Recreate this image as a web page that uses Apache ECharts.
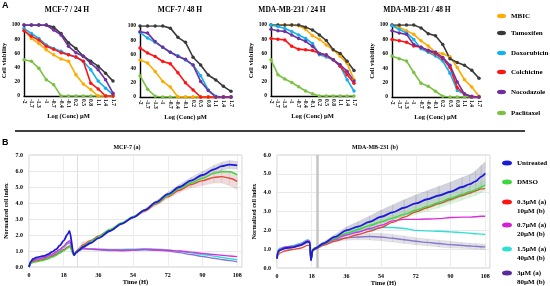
<!DOCTYPE html>
<html><head><meta charset="utf-8">
<script src="https://cdn.jsdelivr.net/npm/echarts@6/dist/echarts.min.js"></script>
<style>html,body{margin:0;padding:0;background:#fff}#c{width:550px;height:286px}</style>
</head><body><div id="c"></div>
<script>
// ---------- DATA : panel A (cell viability, %) ----------
const concLabels = ['-2','-1.7','-1.3','-1','-0.7','-0.4','-0.1','0.2','0.5','0.8','1.1','1.4','1.7'];
const drugNames = ['MBIC','Tamoxifen','Doxorubicin','Colchicine','Nocodazole','Paclitaxel'];
const panelTitles = ['MCF-7 / 24 H','MCF-7 / 48 H','MDA-MB-231 / 24 H','MDA-MB-231 / 48 H'];

const mcf24_mbic = [93,81,74,65,58,52,49,30,17,9,0,0,0];
const mcf24_tam  = [100,100,100,100,97,88,75,67,56,49,42,32,21];
const mcf24_dox  = [95,88,81,72,67,63,58,55,49,37,21,11,2];
const mcf24_col  = [92,84,79,70,66,61,58,55,49,18,10,0,0];
const mcf24_noc  = [100,100,100,100,93,86,70,61,56,46,37,23,4];
const mcf24_pac  = [51,49,39,23,16,0,0,0,0,0,0,0,0];

const mcf48_mbic = [52,48,36,22,14,0,0,0,0,0,0,0,0];
const mcf48_tam  = [100,100,100,100,97,84,77,56,45,31,24,15,8];
const mcf48_dox  = [91,83,77,70,63,58,52,45,30,10,1,0,0];
const mcf48_col  = [69,62,57,50,47,34,20,10,0,0,0,0,0];
const mcf48_noc  = [92,90,78,70,63,57,53,45,22,9,0,0,0];
const mcf48_pac  = [30,11,1,0,0,0,0,0,0,0,0,0,0];

const mda24_mbic = [100,100,100,100,99,94,85,80,72,65,56,46,23];
const mda24_tam  = [100,100,100,100,100,97,93,86,78,65,60,49,36];
const mda24_dox  = [100,98,95,91,86,81,74,58,55,51,42,23,7];
const mda24_col  = [81,80,79,70,66,65,64,60,57,51,42,30,18];
const mda24_noc  = [94,92,91,86,81,77,70,60,58,51,44,35,21];
const mda24_pac  = [51,30,24,19,13,7,3,0,0,0,0,0,0];

const mda48_mbic = [100,97,92,87,78,71,62,60,56,41,24,14,1];
const mda48_tam  = [100,100,100,100,96,88,85,73,53,48,44,37,26];
const mda48_dox  = [99,94,89,80,67,62,57,50,33,9,4,0,0];
const mda48_col  = [80,78,76,71,69,64,60,53,41,13,4,0,0];
const mda48_noc  = [92,89,87,73,69,65,62,55,44,21,4,1,0];
const mda48_pac  = [57,53,50,34,19,15,8,1,0,0,0,0,0];

// ---------- DATA : panel B (normalized cell index) ----------
const rtcaNames = ['Untreated','DMSO','0.3µM (a)\n10µM (b)','0.7µM (a)\n20µM (b)','1.5µM (a)\n40µM (b)','3µM (a)\n80µM (b)'];
const timeA = [0,1,2,4,6,8,10,12,14,16,18,20,21,23.3,24.5,26,28,32,36,42,48,54,60,66,72,78,84,90,96,100,104,108];
const mcfUntreated = [0,0.35,0.5,0.6,0.65,0.7,0.8,0.95,1.1,1.35,1.65,2.05,2.25,0.73,0.9,1.05,1.25,1.5,1.8,2.25,2.7,3.1,3.55,4.05,4.55,5.0,5.4,5.75,6.1,6.3,6.4,6.35];
const mcfDMSO      = [0,0.22,0.28,0.33,0.38,0.43,0.52,0.62,0.72,0.87,1.02,1.18,1.27,0.75,0.92,1.08,1.3,1.6,1.9,2.35,2.75,3.15,3.55,4.0,4.45,4.9,5.25,5.55,5.85,5.95,5.95,5.75];
const mcfDose1     = [0,0.27,0.33,0.38,0.43,0.48,0.57,0.67,0.78,0.93,1.08,1.24,1.32,0.77,0.95,1.12,1.38,1.65,1.92,2.32,2.72,3.1,3.5,3.95,4.4,4.8,5.15,5.4,5.6,5.65,5.55,5.35];
const mcfDose2     = [0,0.3,0.4,0.5,0.55,0.6,0.7,0.8,0.95,1.1,1.3,1.55,1.65,0.8,0.97,1.12,1.15,1.12,1.1,1.07,1.05,1.07,1.1,1.08,1.05,1.0,0.93,0.85,0.78,0.73,0.69,0.65];
const mcfDose3     = [0,0.3,0.38,0.47,0.52,0.57,0.66,0.76,0.9,1.05,1.25,1.5,1.58,0.8,0.97,1.12,1.16,1.14,1.12,1.1,1.1,1.12,1.15,1.12,1.07,0.98,0.88,0.78,0.68,0.6,0.52,0.45];
const mcfDose4     = [0,0.28,0.36,0.45,0.5,0.55,0.63,0.73,0.87,1.02,1.22,1.45,1.52,0.8,0.97,1.12,1.16,1.1,1.07,1.03,1.02,1.05,1.08,1.05,1.0,0.9,0.78,0.66,0.55,0.47,0.4,0.32];
const mcfUntreatedErr = [0,0,0,0,0,0,0,0,0,0,0,0,0,0,0,0.1,0.15,0.05,0.05,0.05,0.05,0.05,0.08,0.1,0.12,0.15,0.2,0.22,0.25,0.25,0.25,0.25];
const mcfDose1Err     = [0,0,0,0,0,0,0,0,0,0,0,0,0,0,0,0.15,0.2,0.05,0.05,0.05,0.05,0.05,0.08,0.1,0.12,0.15,0.2,0.3,0.35,0.4,0.45,0.5];

const timeB = [0,0.5,1.5,4,8,12,16,17,17.6,18.5,20,24,30,36,42,48,54,60,66,72,78,84,90,96,100,103,106,108];
const mdaUntreated = [0.5,0.85,0.95,1.05,1.1,1.2,1.4,1.35,0.4,0.95,1.05,1.3,1.65,2.0,2.2,2.45,2.72,2.95,3.2,3.43,3.65,3.85,4.05,4.3,4.45,4.6,4.85,5.03];
const mdaDMSO      = [0.5,0.85,0.95,1.05,1.1,1.2,1.38,1.35,0.45,0.95,1.05,1.28,1.58,1.85,2.05,2.25,2.45,2.65,2.85,3.07,3.27,3.48,3.7,3.9,4.05,4.15,4.3,4.4];
const mdaDose1     = [0.5,0.7,0.8,0.9,0.98,1.05,1.2,1.2,0.45,0.9,1.0,1.2,1.42,1.6,1.78,1.95,2.15,2.42,2.7,2.98,3.2,3.42,3.64,3.85,3.98,4.1,4.2,4.23];
const mdaDose2     = [0.5,0.9,1.0,1.1,1.15,1.25,1.45,1.42,0.45,0.95,1.05,1.3,1.55,1.75,1.9,2.1,2.27,2.5,2.58,2.58,2.6,2.62,2.68,2.7,2.7,2.72,2.75,2.75];
const mdaDose3     = [0.5,0.95,1.05,1.12,1.18,1.3,1.5,1.45,0.45,1.0,1.08,1.32,1.6,1.8,1.95,2.05,2.15,2.15,2.1,2.0,1.97,1.95,1.92,1.88,1.85,1.82,1.8,1.78];
const mdaDose4     = [0.5,0.9,1.0,1.08,1.13,1.22,1.42,1.38,0.45,0.95,1.05,1.28,1.5,1.6,1.65,1.67,1.65,1.58,1.5,1.42,1.36,1.3,1.24,1.2,1.17,1.15,1.13,1.12];
const mdaUntreatedErr = [0,0.05,0.05,0.05,0.05,0.05,0.1,0.1,0,0.05,0.05,0.08,0.12,0.18,0.25,0.3,0.35,0.4,0.42,0.45,0.45,0.48,0.5,0.5,0.5,0.55,0.6,0.6];
const mdaDMSOErr      = [0,0,0,0,0,0,0,0,0,0,0,0.05,0.08,0.1,0.12,0.15,0.15,0.18,0.2,0.22,0.25,0.28,0.3,0.3,0.3,0.3,0.3,0.3];
const mdaDose4Err     = [0,0,0,0,0,0,0,0,0,0,0,0.05,0.08,0.12,0.15,0.18,0.2,0.2,0.2,0.18,0.18,0.18,0.18,0.15,0.15,0.15,0.15,0.15];

// ---------- build ----------
const SERIF = '"Liberation Serif","Times New Roman",serif';
const SANS = '"Liberation Sans",Arial,sans-serif';
const ELLIPSE = 'path://M0,5A10,5 0 1,1 20,5A10,5 0 1,1 0,5Z';
const drugColors = ['#FFAA00','#3A3A3A','#12B0F0','#FF1414','#7030A0','#7CC242'];
const rtcaColors = ['#1C1CD8','#40D640','#E04A3C','#DD2EDD','#30E0D6','#8A78CC'];
const rtcaLegendColors = ['#1C1CD8','#40D640','#FF1414','#D41FD4','#30E0D6','#5A2A9A'];

const panelData = [
  [mcf24_mbic,mcf24_tam,mcf24_dox,mcf24_col,mcf24_noc,mcf24_pac],
  [mcf48_mbic,mcf48_tam,mcf48_dox,mcf48_col,mcf48_noc,mcf48_pac],
  [mda24_mbic,mda24_tam,mda24_dox,mda24_col,mda24_noc,mda24_pac],
  [mda48_mbic,mda48_tam,mda48_dox,mda48_col,mda48_noc,mda48_pac]
];
const topGrids = [
  {left:24, top:25, width:89, height:71},
  {left:140, top:26, width:91, height:71},
  {left:271, top:25, width:83, height:71},
  {left:392, top:25, width:87, height:72}
];
const showYName = [true,false,true,true];
const titleX = [67,180,292,417];

const grid = [], xAxis = [], yAxis = [], series = [], legend = [], graphic = [];
const lbl = (size) => ({fontFamily:SERIF, fontWeight:'bold', fontSize:size, color:'#000'});

topGrids.forEach((g,i)=>{
  grid.push(Object.assign({outerBoundsMode:'none', containLabel:false}, g));
  xAxis.push({type:'category', gridIndex:i, data:concLabels, boundaryGap:false,
    axisLine:{lineStyle:{color:'#000',width:1.4}}, axisTick:{show:false},
    axisLabel:Object.assign({interval:0, rotate:-90, margin:3}, lbl(5.5)),
    splitLine:{show:false},
    name:'Log (Conc) µM', nameLocation:'middle', nameGap:17, nameTextStyle:lbl(6.5)});
  yAxis.push({type:'value', gridIndex:i, min:0, max:100, interval:20,
    axisLine:{show:true, lineStyle:{color:'#000',width:1.4}}, axisTick:{show:false},
    splitLine:{show:false},
    axisLabel:Object.assign({margin:4}, lbl(5.5)),
    name: showYName[i] ? 'Cell viability' : '', nameLocation:'middle', nameGap:13, nameTextStyle:lbl(6.5)});
  panelData[i].forEach((arr,k)=>{
    series.push({type:'line', name:drugNames[k], xAxisIndex:i, yAxisIndex:i, data:arr,
      color:drugColors[k], symbol:'circle', symbolSize:3.5, showSymbol:true,
      lineStyle:{width:1.6}, itemStyle:{color:drugColors[k]}, z: k===5?2:3, animation:false});
  });
  graphic.push({type:'text', x:titleX[i], y:10, silent:true,
    style:{text:panelTitles[i], font:'bold 7.5px '+SERIF, fill:'#000', align:'center', verticalAlign:'middle'}});
});

// top legend
const topLegendY = [16,33,53,72,92,113];
drugNames.forEach((n,k)=>{
  legend.push({data:[{name:n}], left:497, top:topLegendY[k]-5, padding:0, itemGap:0,
    icon:ELLIPSE, itemWidth:9, itemHeight:6, selectedMode:false,
    textStyle:Object.assign({lineHeight:10}, lbl(7))});
});

// bottom panels
const botGrids = [
  {left:29, top:155, width:213, height:112, ymax:7, t:timeA, vals:[mcfUntreated,mcfDMSO,mcfDose1,mcfDose2,mcfDose3,mcfDose4],
   bands:[[mcfUntreated,mcfUntreatedErr,'rgba(150,150,165,0.35)'],[mcfDose1,mcfDose1Err,'rgba(200,140,140,0.30)']],
   mark:25, markColor:'#dedede', markW:1, title:'MCF-7 (a)', tx:127},
  {left:277, top:155, width:213, height:113, ymax:6, t:timeB, vals:[mdaUntreated,mdaDMSO,mdaDose1,mdaDose2,mdaDose3,mdaDose4],
   bands:[[mdaUntreated,mdaUntreatedErr,'rgba(140,140,165,0.38)'],[mdaDMSO,mdaDMSOErr,'rgba(140,220,140,0.30)'],[mdaDose4,mdaDose4Err,'rgba(160,160,175,0.30)']],
   mark:21, markColor:'#c4c4c4', markW:2.5, title:'MDA-MB-231 (b)', tx:375}
];
botGrids.forEach((b,j)=>{
  const gi = 4+j;
  grid.push({outerBoundsMode:'none', containLabel:false, left:b.left, top:b.top, width:b.width, height:b.height,
    show:true, borderColor:'#cfcfcf', borderWidth:1});
  xAxis.push({type:'value', gridIndex:gi, min:0, max:110.5, interval:18,
    axisLine:{show:false}, axisTick:{show:false},
    splitLine:{show:true, lineStyle:{color:'#ededed', width:1}},
    axisLabel:Object.assign({showMaxLabel:false, margin:5}, lbl(6)),
    name:'Time (H)', nameLocation:'middle', nameGap:12, nameTextStyle:lbl(6.5)});
  yAxis.push({type:'value', gridIndex:gi, min:0, max:b.ymax, interval:1,
    axisLine:{show:false}, axisTick:{show:false},
    splitLine:{show:true, lineStyle:{color:'#e8e8e8', width:1}},
    axisLabel:Object.assign({margin:6, formatter:(v)=>v.toFixed(1)}, lbl(6)),
    name:'Normalized cell index', nameLocation:'middle', nameGap:20, nameTextStyle:lbl(6)});
  // error bands
  b.bands.forEach(([v,e,col])=>{
    const segs = [];
    for (let i=0;i<b.t.length-1;i++){
      segs.push([b.t[i], v[i]-e[i], v[i]+e[i], b.t[i+1], v[i+1]-e[i+1], v[i+1]+e[i+1]]);
    }
    series.push({type:'custom', xAxisIndex:gi, yAxisIndex:gi, data:segs, silent:true, z:1, animation:false,
      encode:{x:[0,3], y:[1,2,4,5]}, clip:true,
      renderItem:(params, api)=>{
        const p1 = api.coord([api.value(0), api.value(1)]);
        const p2 = api.coord([api.value(3), api.value(4)]);
        const p3 = api.coord([api.value(3), api.value(5)]);
        const p4 = api.coord([api.value(0), api.value(2)]);
        return {type:'polygon', shape:{points:[p1,p2,p3,p4]}, style:{fill:col, stroke:col, lineWidth:0.5}};
      }});
  });
  b.vals.forEach((arr,k)=>{
    const s = {type:'line', name:rtcaNames[k], xAxisIndex:gi, yAxisIndex:gi,
      data:b.t.map((x,i)=>[x, arr[i]]), color:rtcaColors[k], showSymbol:false, symbol:'none',
      smooth:0.3, smoothMonotone:'x', lineStyle:{width:k===0?1.8:1.4}, z: k===0?6:(5-k*0.1), animation:false};
    if (k===0) s.markLine = {silent:true, symbol:'none', label:{show:false}, animation:false,
      lineStyle:{color:b.markColor, width:b.markW, type:'solid'}, data:[{xAxis:b.mark}], z:0};
    series.push(s);
  });
  graphic.push({type:'text', x:b.tx, y:147, silent:true,
    style:{text:b.title, font:'bold 6px '+SERIF, fill:'#000', align:'center', verticalAlign:'middle'}});
});

// bottom legend: icon + first line via legend, continuation line as text just below
const botLegendY = [163,182,202,225,249,273];
rtcaNames.forEach((n,k)=>{
  const lines = n.split('\n');
  legend.push({data:[{name:n, itemStyle:{color:rtcaLegendColors[k]}}], left:502, top: botLegendY[k]-4.5,
    padding:0, itemGap:0, icon:ELLIPSE, itemWidth:10, itemHeight:7, selectedMode:false,
    formatter:(nm)=>nm.split('\n')[0],
    textStyle:Object.assign({lineHeight:9}, lbl(7))});
  if (lines.length > 1) {
    graphic.push({type:'text', x:517, y:botLegendY[k]+9, silent:true,
      style:{text:lines[1], font:'bold 7px '+SERIF, fill:'#000', align:'left', verticalAlign:'middle'}});
  }
});

graphic.push({type:'text', x:2, y:1, silent:true, style:{text:'A', font:'bold 9px '+SANS, fill:'#000', align:'left', verticalAlign:'top'}});
graphic.push({type:'text', x:2, y:138, silent:true, style:{text:'B', font:'bold 9px '+SANS, fill:'#000', align:'left', verticalAlign:'top'}});
graphic.push({type:'line', silent:true, shape:{x1:15, y1:131, x2:525, y2:131}, style:{stroke:'#000', lineWidth:1.6}});

const chart = echarts.init(document.getElementById('c'), null, {renderer:'canvas'});
chart.setOption({backgroundColor:'#fff', animation:false, grid, xAxis, yAxis, series, legend, graphic, tooltip:{show:false}});
</script></body></html>
